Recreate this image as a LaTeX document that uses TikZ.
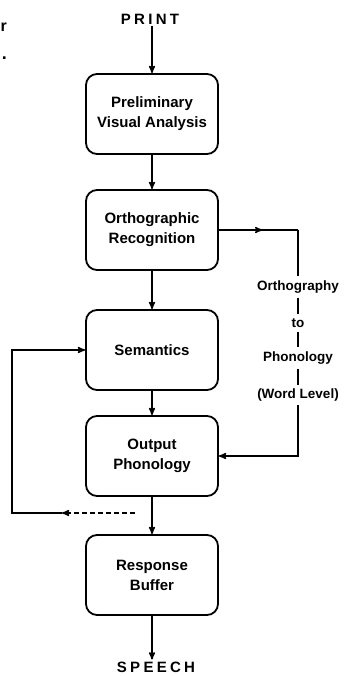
\documentclass[tikz,border=0pt]{standalone}
\usepackage{fontspec}
\setmainfont{Liberation Sans}
\usetikzlibrary{arrows}
\usetikzlibrary{decorations.markings}

\tikzset{
 stage/.style={draw, line width=1.8pt, rounded corners=11pt, minimum width=132pt,
   minimum height=80pt, align=center, font=\fontsize{15}{20}\selectfont\bfseries},
 sidelabel/.style={align=center, inner sep=4pt, font=\fontsize{13.5}{15}\selectfont\bfseries},
 io/.style={inner sep=2pt, font=\fontsize{15}{16}\selectfont\bfseries\addfontfeature{LetterSpace=22}},
 link/.style={line width=1.5pt, >=stealth'},
 midarrow/.style={postaction={decorate}, decoration={markings,
   mark=at position .55 with {\arrow[line width=1.5pt]{stealth'}}}}
}

\begin{document}
\begin{tikzpicture}[x=1pt, y=-1pt]
\useasboundingbox (0,0) rectangle (344,676);
% edge of the page
\node[anchor=east, inner sep=0, font=\fontsize{16}{16}\selectfont\bfseries] (cutr) at (7,27) {r};
\node[anchor=east, inner sep=0, font=\fontsize{18}{18}\selectfont\bfseries] (cutdot) at (7,58) {.};

\node[io] (print) at (150,19) {PRINT};
\node[stage] (prelim) at (152,114) {Preliminary\\Visual Analysis};
\node[stage] (ortho) at (152,230) {Orthographic\\Recognition};
\node[stage] (sem) at (152,350) {Semantics};
\node[stage] (outph) at (152,456) {Output\\Phonology};
\node[stage] (buffer) at (152,575) {Response\\Buffer};
\node[io] (speech) at (156,667) {SPEECH};

% orthography to phonology route
\node[sidelabel] (olab) at (298,287) {Orthography};
\node[sidelabel] (tolab) at (298,323) {to};
\node[sidelabel] (plab) at (298,358) {Phonology};
\node[sidelabel] (wlab) at (298,395) {(Word Level)};
\coordinate (turn) at (298,230);

% feedback
\coordinate (fbstart) at (135,513);
\coordinate (fbtip) at (62,513);
\coordinate (fbcorner) at (12,513);

\draw[link,->] (print.south -| prelim.north) -- (prelim.north);
\draw[link,->] (prelim) -- (ortho);
\draw[link,->] (ortho) -- (sem);
\draw[link,->] (sem) -- (outph);
\draw[link,->] (outph) -- (buffer);
\draw[link,->] (buffer.south) -- (speech.north -| buffer.south);

\draw[link,midarrow] (ortho.east) -- (turn);
\draw[link] (turn) -- (olab.north);
\draw[link] (olab) -- (tolab);
\draw[link] (tolab) -- (plab);
\draw[link] (plab) -- (wlab);
\draw[link,->] (wlab.south) |- (outph.east);

\draw[link,dash pattern=on 5pt off 3pt,->] (fbstart) -- (fbtip);
\draw[link,->] (fbtip) -- (fbcorner) |- (sem.west);
\end{tikzpicture}
\end{document}
